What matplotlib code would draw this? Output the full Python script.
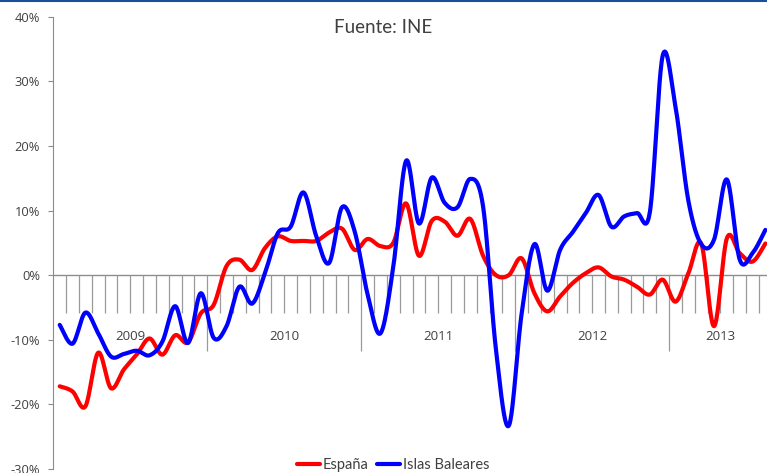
import numpy as np
import matplotlib
matplotlib.use("Agg")
import matplotlib.pyplot as plt
from matplotlib.lines import Line2D

# Monthly year-on-year change (%), Jan 2009 - Aug 2013
years = ["2009", "2010", "2011", "2012", "2013"]
months_per_year = [12, 12, 12, 12, 8]

espana = [-17.2, -18.0, -20.3, -12.0, -17.5, -14.6, -12.3, -9.8, -12.3, -9.3, -10.4, -5.9,
          -4.6, 1.4, 2.4, 0.8, 4.2, 6.0, 5.3, 5.3, 5.3, 6.6, 7.2, 3.9,
          5.6, 4.5, 5.0, 11.1, 3.0, 8.4, 8.3, 6.1, 8.7, 3.0, 0.0, 0.0,
          2.6, -2.8, -5.6, -3.3, -1.2, 0.3, 1.2, -0.2, -0.7, -1.8, -3.0, -0.7,
          -4.1, 0.3, 4.9, -7.9, 5.7, 3.4, 2.1, 4.9]

baleares = [-7.7, -10.6, -5.8, -9.0, -12.6, -12.2, -11.7, -12.4, -10.3, -4.8, -10.5, -2.8,
            -9.7, -7.9, -1.8, -4.4, 0.3, 6.5, 7.5, 12.8, 6.0, 1.9, 10.5, 6.7,
            -3.0, -9.0, 1.3, 17.7, 8.0, 15.1, 11.2, 10.5, 14.9, 10.6, -11.5, -23.3,
            -6.0, 4.8, -2.4, 3.9, 6.7, 9.6, 12.4, 7.5, 9.1, 9.6, 9.8, 34.0,
            26.0, 11.5, 4.8, 5.5, 14.8, 2.4, 3.4, 7.0]

y_ticks = [40, 30, 20, 10, 0, -10, -20, -30]


def smooth(vals, n=24):
    # Excel-like smoothed line (Catmull-Rom as cubic Bezier)
    pts = np.column_stack([np.arange(len(vals)) + 0.5, vals])
    P = np.vstack([pts[0], pts, pts[-1]])
    t = np.linspace(0, 1, n, endpoint=False)[:, None]
    segs = []
    for i in range(1, len(P) - 2):
        p0, p1, p2, p3 = P[i - 1], P[i], P[i + 1], P[i + 2]
        c1 = p1 + (p2 - p0) / 6
        c2 = p2 - (p3 - p1) / 6
        segs.append((1 - t) ** 3 * p1 + 3 * (1 - t) ** 2 * t * c1
                    + 3 * (1 - t) * t ** 2 * c2 + t ** 3 * p2)
    segs.append(pts[-1:])
    return np.vstack(segs)


W, H = 767, 473
fig = plt.figure(figsize=(W / 100, H / 100), dpi=100)
n = len(espana)
left, right = 53.3, 53.3 + n * 12.83
top, bottom = 16.7, 469.0
ax = fig.add_axes([left / W, 1 - bottom / H, (right - left) / W, (bottom - top) / H])

ax.set_xlim(0, n)
ax.set_ylim(-30, 40)

grey = "#8c8c8c"
text_col = "#404040"

# category axis at zero with monthly tick marks
ax.axhline(0, color=grey, lw=1.0, zorder=1)
bounds = np.cumsum(months_per_year)[:-1]
for k in range(1, n):
    low = -11.8 if k in bounds else -5.9
    ax.vlines(k, low, 0, color="#9a9a9a", lw=0.9, zorder=1)

starts = np.concatenate([[0], np.cumsum(months_per_year)[:-1]])
for yr, s, m in zip(years, starts, months_per_year):
    ax.text(s + m / 2, -9.5, yr, ha="center", va="center", fontsize=9.5,
            color=text_col, family="Open Sans")

es = smooth(espana)
ib = smooth(baleares)
ax.plot(es[:, 0], es[:, 1], color="#ff0000", lw=3.0, zorder=3, label="España",
        solid_capstyle="round")
ax.plot(ib[:, 0], ib[:, 1], color="#0000ff", lw=3.0, zorder=4, label="Islas Baleares",
        solid_capstyle="round")

for s in ["top", "right", "bottom"]:
    ax.spines[s].set_visible(False)
ax.spines["left"].set_color(grey)
ax.set_xticks([])
ax.set_yticks(y_ticks)
ax.set_yticklabels([f"{v}%" for v in y_ticks])
ax.tick_params(axis="y", length=3.5, color=grey, labelcolor=text_col, labelsize=9.3, pad=6)
for lab in ax.get_yticklabels():
    lab.set_family("Open Sans")

fig.text(383.3 / W, 1 - 27.3 / H, "Fuente: INE", ha="center", va="center",
         fontsize=13.5, color=text_col, family="Lato")

leg = fig.legend(loc="center", bbox_to_anchor=(393 / W, 1 - 465 / H), ncol=2,
                 frameon=False, handlelength=1.6, handletextpad=0.15, columnspacing=0.6,
                 prop={"family": "Lato", "size": 10.5})
for t in leg.get_texts():
    t.set_color(text_col)

# thin blue rule at the very top
fig.add_artist(Line2D([0, 1], [1 - 0.8 / H, 1 - 0.8 / H], color="#1a4f9c", lw=1.5))

fig.savefig("out.png", dpi=100)
